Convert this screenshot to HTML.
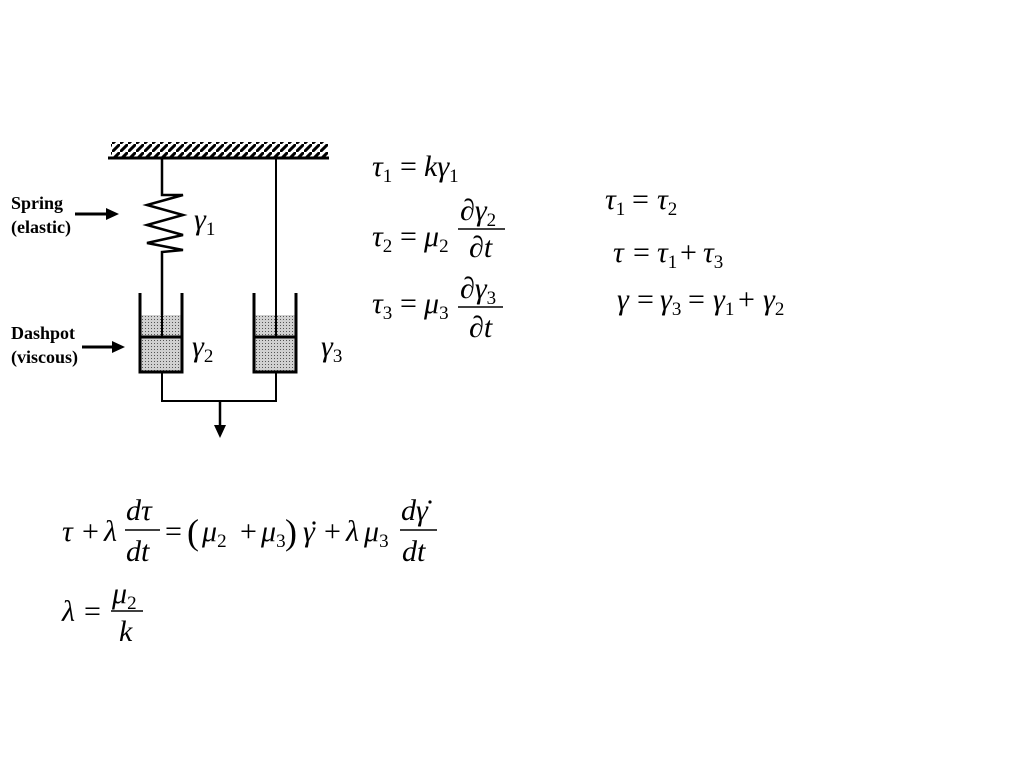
<!DOCTYPE html>
<html><head><meta charset="utf-8"><style>
html,body{margin:0;padding:0;background:#fff;}
svg{display:block;}
.m{font-family:"Liberation Serif",serif;font-size:30px;}
.i{font-style:italic;}
.s{font-size:19px;font-style:normal;}
.lb{font-family:"Liberation Serif",serif;font-weight:bold;font-size:18px;}
</style></head><body>
<svg width="1024" height="768" viewBox="0 0 1024 768" xmlns="http://www.w3.org/2000/svg">
<defs>
<pattern id="h" width="8" height="8" patternUnits="userSpaceOnUse"><path d="M-2,10 L10,-2" stroke="#000" stroke-width="3"/></pattern>
<pattern id="d" width="3" height="3" patternUnits="userSpaceOnUse"><rect width="3" height="3" fill="#d0d0d0"/><rect x="1" y="1" width="1" height="1" fill="#555"/></pattern>
</defs>
<rect x="111" y="142" width="217" height="15" fill="url(#h)"/>
<line x1="108" y1="158" x2="329" y2="158" stroke="#000" stroke-width="3"/>
<polyline points="162,158 162,195 183,195 147,205 183,215 147,225 183,235 147,243 183,250 162,252 162,337" fill="none" stroke="#000" stroke-width="2.5"/>
<line x1="276" y1="158" x2="276" y2="337" stroke="#000" stroke-width="2"/>
<rect x="140" y="315" width="42" height="57" fill="url(#d)"/>
<polyline points="140,293 140,372 182,372 182,293" fill="none" stroke="#000" stroke-width="3"/>
<line x1="140" y1="337" x2="182" y2="337" stroke="#000" stroke-width="3"/>
<line x1="162" y1="315" x2="162" y2="337" stroke="#000" stroke-width="2"/>
<rect x="254" y="315" width="42" height="57" fill="url(#d)"/>
<polyline points="254,293 254,372 296,372 296,293" fill="none" stroke="#000" stroke-width="3"/>
<line x1="254" y1="337" x2="296" y2="337" stroke="#000" stroke-width="3"/>
<line x1="276" y1="315" x2="276" y2="337" stroke="#000" stroke-width="2"/>
<polyline points="162,372 162,401 276,401 276,372" fill="none" stroke="#000" stroke-width="2"/>
<line x1="220" y1="401" x2="220" y2="426" stroke="#000" stroke-width="2.5"/>
<polygon points="214,425 226,425 220,438" fill="#000"/>
<text class="lb" x="11" y="209">Spring</text>
<text class="lb" x="11" y="233">(elastic)</text>
<line x1="75" y1="214" x2="108" y2="214" stroke="#000" stroke-width="3"/>
<polygon points="106,208 119,214 106,220" fill="#000"/>
<text class="lb" x="11" y="339">Dashpot</text>
<text class="lb" x="11" y="363">(viscous)</text>
<line x1="82" y1="347" x2="114" y2="347" stroke="#000" stroke-width="3"/>
<polygon points="112,341 125,347 112,353" fill="#000"/>
<text class="m" x="194" y="229"><tspan class="i">γ</tspan><tspan class="s" dy="6">1</tspan></text>
<text class="m" x="192" y="356"><tspan class="i">γ</tspan><tspan class="s" dy="6">2</tspan></text>
<text class="m" x="321" y="356"><tspan class="i">γ</tspan><tspan class="s" dy="6">3</tspan></text>
<text class="m" x="372" y="176"><tspan class="i">τ</tspan><tspan class="s" dy="6">1</tspan><tspan dy="-6" x="400">=</tspan><tspan class="i" x="424">kγ</tspan><tspan class="s" dy="6">1</tspan></text>
<text class="m" x="372" y="246"><tspan class="i">τ</tspan><tspan class="s" dy="6">2</tspan><tspan dy="-6" x="400">=</tspan><tspan class="i" x="424">μ</tspan><tspan class="s" dy="6">2</tspan></text>
<text class="m" x="460" y="220"><tspan class="i">∂γ</tspan><tspan class="s" dy="6">2</tspan></text>
<line x1="458" y1="229" x2="505" y2="229" stroke="#000" stroke-width="1.5"/>
<text class="m i" x="469" y="257">∂t</text>
<text class="m" x="372" y="313"><tspan class="i">τ</tspan><tspan class="s" dy="6">3</tspan><tspan dy="-6" x="400">=</tspan><tspan class="i" x="424">μ</tspan><tspan class="s" dy="6">3</tspan></text>
<text class="m" x="460" y="298"><tspan class="i">∂γ</tspan><tspan class="s" dy="6">3</tspan></text>
<line x1="458" y1="307" x2="503" y2="307" stroke="#000" stroke-width="1.5"/>
<text class="m i" x="469" y="337">∂t</text>
<text class="m" x="605" y="209"><tspan class="i">τ</tspan><tspan class="s" dy="6">1</tspan><tspan dy="-6" x="632">=</tspan><tspan class="i" x="657">τ</tspan><tspan class="s" dy="6">2</tspan></text>
<text class="m" x="613" y="262"><tspan class="i">τ</tspan><tspan x="633">=</tspan><tspan class="i" x="657">τ</tspan><tspan class="s" dy="6">1</tspan><tspan dy="-6" x="680">+</tspan><tspan class="i" x="703">τ</tspan><tspan class="s" dy="6">3</tspan></text>
<text class="m" x="617" y="309"><tspan class="i">γ</tspan><tspan x="637">=</tspan><tspan class="i" x="660">γ</tspan><tspan class="s" dy="6">3</tspan><tspan dy="-6" x="688">=</tspan><tspan class="i" x="713">γ</tspan><tspan class="s" dy="6">1</tspan><tspan dy="-6" x="738">+</tspan><tspan class="i" x="763">γ</tspan><tspan class="s" dy="6">2</tspan></text>
<text class="m" x="62" y="541"><tspan class="i">τ</tspan><tspan x="82">+</tspan><tspan class="i" x="104">λ</tspan></text>
<text class="m i" x="126" y="520">dτ</text>
<line x1="125" y1="530" x2="160" y2="530" stroke="#000" stroke-width="1.5"/>
<text class="m i" x="126" y="561">dt</text>
<text class="m" x="165" y="541">=</text>
<text x="187" y="544" style="font-family:'Liberation Serif',serif;font-size:36px">(</text>
<text class="m" x="202" y="541"><tspan class="i">μ</tspan><tspan class="s" dy="6">2</tspan><tspan dy="-6" x="240">+</tspan><tspan class="i" x="261">μ</tspan><tspan class="s" dy="6">3</tspan></text>
<text x="285" y="544" style="font-family:'Liberation Serif',serif;font-size:36px">)</text>
<text class="m" x="303" y="541"><tspan class="i">γ</tspan><tspan x="324">+</tspan><tspan class="i" x="346">λ</tspan><tspan class="i" x="364">μ</tspan><tspan class="s" dy="6">3</tspan></text>
<circle cx="314" cy="523" r="1.6" fill="#000"/>
<text class="m i" x="401" y="520">dγ</text>
<circle cx="430" cy="502" r="1.6" fill="#000"/>
<line x1="400" y1="530" x2="437" y2="530" stroke="#000" stroke-width="1.5"/>
<text class="m i" x="402" y="561">dt</text>
<text class="m" x="62" y="621"><tspan class="i">λ</tspan><tspan x="84">=</tspan></text>
<text class="m" x="112" y="603"><tspan class="i">μ</tspan><tspan class="s" dy="6">2</tspan></text>
<line x1="111" y1="611" x2="143" y2="611" stroke="#000" stroke-width="1.5"/>
<text class="m i" x="119" y="641">k</text>
</svg>
</body></html>
